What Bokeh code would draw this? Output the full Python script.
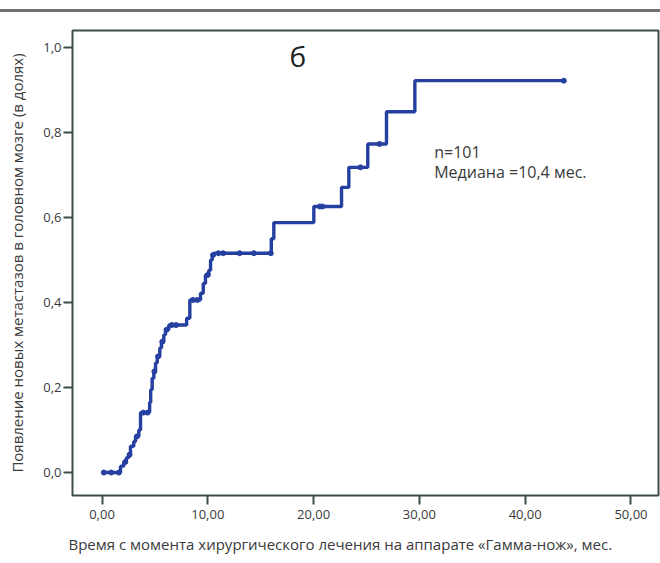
import numpy as np
from bokeh.plotting import figure
from bokeh.layouts import column
from bokeh.models import Range1d, FixedTicker, CustomJSTickFormatter, Label, Title, Div
from bokeh.embed import file_html
from bokeh.resources import INLINE

# ---- data ----
start_time = 0.17
event_times = [1.75, 2.06, 2.30, 2.53, 2.69, 3.00, 3.17, 3.48, 3.64, 4.50, 4.60, 4.74, 4.90,
               5.06, 5.22, 5.46, 5.62, 5.84, 6.00, 6.31, 8.00, 8.30, 9.31, 9.57, 9.78,
               10.09, 10.26, 10.42, 10.57, 16.00, 16.24, 20.02, 22.64, 23.33, 25.12,
               26.89, 29.57]
cum_values = [0.015, 0.025, 0.035, 0.042, 0.062, 0.073, 0.085, 0.100, 0.141, 0.165, 0.195,
              0.222, 0.238, 0.258, 0.273, 0.293, 0.308, 0.324, 0.336, 0.347, 0.363, 0.406,
              0.422, 0.445, 0.465, 0.476, 0.500, 0.512, 0.516, 0.550, 0.588, 0.626, 0.671,
              0.718, 0.773, 0.849, 0.922]
end_time = 43.65
censor_times = [0.17, 0.87, 1.59, 2.2, 2.6, 3.3, 3.9, 4.3, 4.95, 5.3, 5.7, 6.1, 6.6, 7.0,
                8.6, 9.0, 10.0, 10.5, 11.0, 11.45, 13.0, 14.35, 15.95, 20.59, 20.84,
                24.43, 26.23, 43.65]

x_ticks = [0, 10, 20, 30, 40, 50]
y_ticks = [0.0, 0.2, 0.4, 0.6, 0.8, 1.0]

title_letter = "б"
note_lines = ["n=101", "Медиана =10,4 мес."]
x_label = "Время с момента хирургического лечения на аппарате «Гамма-нож», мес."
y_label = "Появление новых метастазов в головном мозге (в долях)"

# ---- build step curve ----
step_x = [start_time] + event_times + [end_time]
step_y = [0.0] + cum_values + [cum_values[-1]]

ev = np.array(event_times)
vals = np.array([0.0] + cum_values)
censor_y = [float(vals[np.searchsorted(ev, t, side="right")]) for t in censor_times]

LINE = "#2540a0"
FRAME = "#3e4c4c"
TEXT = "#3a3a3a"
FONT = "Open Sans"

p = figure(width=660, height=548,
           x_range=Range1d(-2.79, 52.6), y_range=Range1d(-0.054, 1.040),
           output_backend="svg", toolbar_location=None, margin=0,
           min_border_left=72, min_border_right=2, min_border_top=15, min_border_bottom=67)

p.grid.visible = False
p.outline_line_color = FRAME
p.outline_line_width = 2
p.background_fill_color = "white"
p.border_fill_color = "white"

p.step(step_x, step_y, mode="after", line_color=LINE, line_width=3.4)
p.scatter(censor_times, censor_y, size=5, color=LINE, marker="circle")

for ax in (p.xaxis[0], p.yaxis[0]):
    ax.axis_line_color = None
    ax.major_tick_line_color = FRAME
    ax.major_tick_line_width = 2
    ax.major_tick_out = 9
    ax.major_tick_in = 0
    ax.minor_tick_line_color = None
    ax.major_label_text_font = FONT
    ax.major_label_text_font_size = "13px"
    ax.major_label_text_color = TEXT

p.xaxis.ticker = FixedTicker(ticks=x_ticks)
p.yaxis.ticker = FixedTicker(ticks=y_ticks)
p.xaxis.formatter = CustomJSTickFormatter(code="return tick.toFixed(2).replace('.', ',');")
p.yaxis.formatter = CustomJSTickFormatter(code="return tick.toFixed(1).replace('.', ',');")
p.xaxis.major_label_standoff = 5
p.yaxis.major_label_standoff = 2

p.yaxis.axis_label = y_label
p.yaxis.axis_label_text_font = FONT
p.yaxis.axis_label_text_font_size = "15px"
p.yaxis.axis_label_text_font_style = "normal"
p.yaxis.axis_label_text_color = TEXT
p.yaxis.axis_label_standoff = 13

xt = Title(text=x_label, align="left", offset=-4, text_font=FONT, text_font_size="15px",
           text_font_style="normal", text_color=TEXT, standoff=20)
p.add_layout(xt, "below")

p.add_layout(Label(x=18.5, y=0.981, text=title_letter, text_align="center",
                   text_baseline="middle", text_font=FONT, text_font_size="28px",
                   text_color="#222222"))
p.add_layout(Label(x=31.4, y=0.753, text=note_lines[0], text_align="left",
                   text_baseline="middle", text_font=FONT, text_font_size="16px",
                   text_color=TEXT))
p.add_layout(Label(x=31.4, y=0.708, text=note_lines[1], text_align="left",
                   text_baseline="middle", text_font=FONT, text_font_size="16px",
                   text_color=TEXT))

# top rule across the page
rule = Div(text='<div style="margin:0;padding:0;height:12px;width:660px;'
                'border-bottom:3px solid #707070;"></div>',
           width=660, height=15, margin=0)

layout = column(rule, p, spacing=0, margin=0)
open("out.html", "w").write(file_html(layout, INLINE))
